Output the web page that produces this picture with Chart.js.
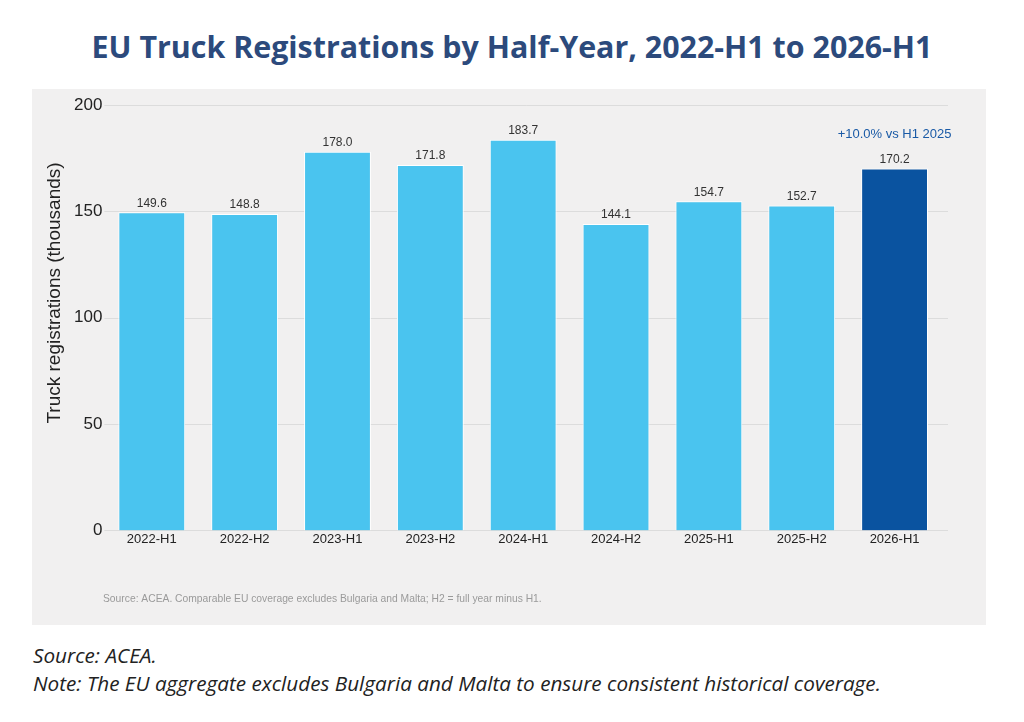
<!DOCTYPE html>
<html>
<head>
<meta charset="utf-8">
<script src="https://cdn.jsdelivr.net/npm/chart.js@4.4.1/dist/chart.umd.min.js"></script>
<style>
  html, body { margin: 0; padding: 0; background: #fff; }
  body { width: 1024px; height: 722px; position: relative; overflow: hidden; }
  #title {
    position: absolute; left: 0; top: 26px; width: 1024px; text-align: center;
    font-family: "Open Sans", sans-serif; font-weight: 700; font-size: 30.4px; color: #2c4a7c;
  }
  #wrap { position: absolute; left: 32px; top: 89px; width: 954px; height: 536px; }
  #foot {
    position: absolute; left: 33px; top: 641px;
    font-family: "Open Sans", sans-serif; font-style: italic; font-size: 20.7px; line-height: 28px; color: #222;
  }
</style>
</head>
<body>
<div id="title">EU Truck Registrations by Half-Year, 2022-H1 to 2026-H1</div>
<div id="wrap"><canvas id="chart"></canvas></div>
<div id="foot">Source: ACEA.<br>Note: The EU aggregate excludes Bulgaria and Malta to ensure consistent historical coverage.</div>
<script>
const periods = ["2022-H1", "2022-H2", "2023-H1", "2023-H2", "2024-H1", "2024-H2", "2025-H1", "2025-H2", "2026-H1"];
const registrations = [149.6, 148.8, 178.0, 171.8, 183.7, 144.1, 154.7, 152.7, 170.2];
const barColors = ["#4ac4ef", "#4ac4ef", "#4ac4ef", "#4ac4ef", "#4ac4ef", "#4ac4ef", "#4ac4ef", "#4ac4ef", "#0a53a0"];
const yTicks = [0, 50, 100, 150, 200];
const yTitle = "Truck registrations (thousands)";
const changeNote = "+10.0% vs H1 2025";
const sourceNote = "Source: ACEA. Comparable EU coverage excludes Bulgaria and Malta; H2 = full year minus H1.";

const font = "'Liberation Sans', Arial, sans-serif";

const panelBg = {
    id: "panelBg",
    beforeDraw(chart) {
        let ctx = chart.ctx;
        ctx.save();
        ctx.fillStyle = "#f1f0f0";
        ctx.fillRect(0, 0, chart.width, chart.height);
        ctx.restore();
        ctx.save();
        // y axis title, drawn by hand so it sits where the original has it
        ctx.translate(23, 204);
        ctx.rotate(-Math.PI / 2);
        ctx.textAlign = "center";
        ctx.textBaseline = "middle";
        ctx.fillStyle = "#222";
        ctx.font = "19px " + font;
        ctx.fillText(yTitle, 0, 0);
        ctx.restore();
    },
    beforeDatasetsDraw(chart) {
        // gridlines run a little past the last category in the original
        let ctx = chart.ctx;
        let area = chart.chartArea;
        let y = chart.scales.y;
        ctx.save();
        ctx.strokeStyle = "#dcdcdc";
        ctx.lineWidth = 1;
        yTicks.forEach(v => {
            let py = Math.round(y.getPixelForValue(v)) + 0.5;
            ctx.beginPath();
            ctx.moveTo(area.left - 1, py);
            ctx.lineTo(area.right + 7, py);
            ctx.stroke();
        });
        ctx.restore();
    }
};

const labels = {
    id: "labels",
    afterDatasetsDraw(chart) {
        let ctx = chart.ctx;
        let meta = chart.getDatasetMeta(0);
        ctx.save();
        ctx.textAlign = "center";
        ctx.textBaseline = "bottom";
        ctx.font = "12px " + font;
        ctx.fillStyle = "#333";
        meta.data.forEach((bar, i) => {
            ctx.fillText(registrations[i].toFixed(1), bar.x, bar.y - 3);
        });
        let last = meta.data[meta.data.length - 1];
        ctx.fillStyle = "#1a5aa6";
        ctx.font = "13px " + font;
        ctx.fillText(changeNote, last.x, last.y - 27);
        ctx.textAlign = "left";
        ctx.fillStyle = "#9a9a9a";
        ctx.font = "10.3px " + font;
        ctx.textBaseline = "middle";
        ctx.fillText(sourceNote, 71, 510);
        ctx.restore();
    }
};

new Chart(document.getElementById("chart"), {
    type: "bar",
    data: {
        labels: periods,
        datasets: [{
            data: registrations,
            backgroundColor: barColors,
            borderColor: "#ffffff",
            borderWidth: 1,
            barPercentage: 0.9,
            categoryPercentage: 0.8
        }]
    },
    options: {
        responsive: true,
        maintainAspectRatio: false,
        animation: false,
        layout: { padding: { top: 16, right: 45, bottom: 77, left: 39 } },
        plugins: {
            legend: { display: false },
            tooltip: { enabled: false }
        },
        scales: {
            x: {
                grid: { display: false, drawTicks: false },
                border: { display: false },
                ticks: { color: "#222", font: { size: 13, family: font }, padding: 1 }
            },
            y: {
                min: 0,
                max: 200,
                afterBuildTicks(axis) { axis.ticks = yTicks.map(v => ({ value: v })); },
                grid: { display: false, drawTicks: false },
                border: { display: false },
                ticks: { color: "#222", font: { size: 17, family: font }, padding: 3 }
            }
        }
    },
    plugins: [panelBg, labels]
});
</script>
</body>
</html>
